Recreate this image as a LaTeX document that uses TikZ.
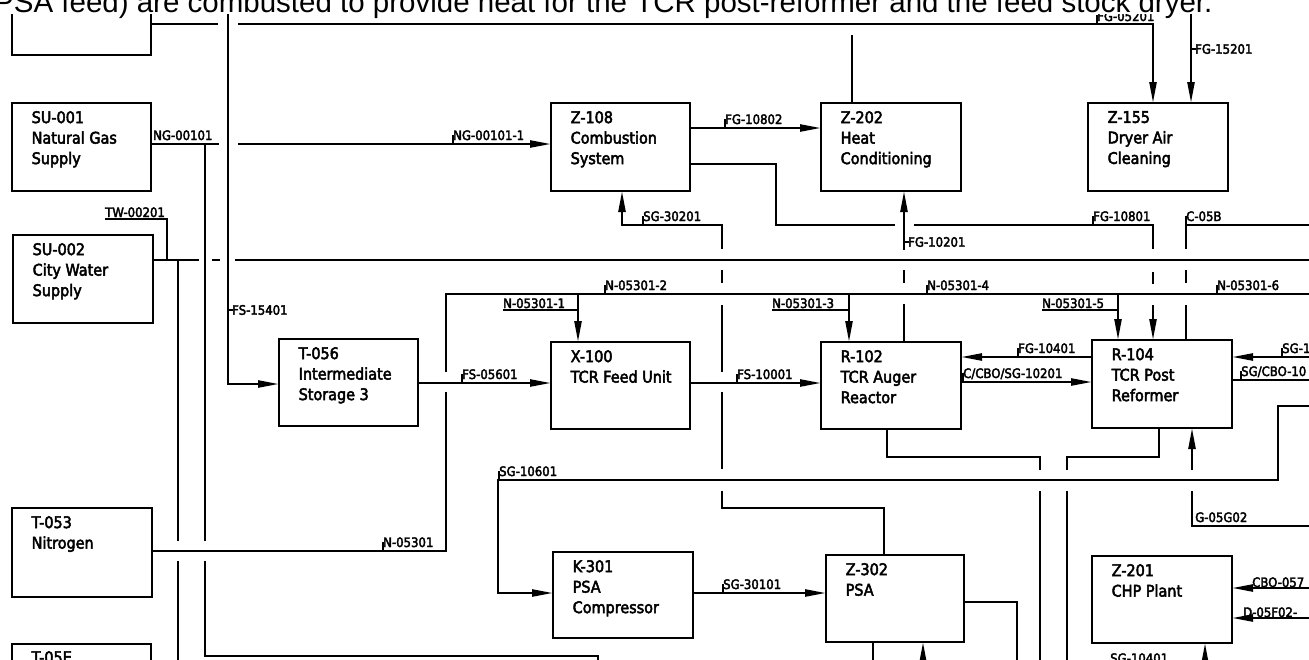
\documentclass[tikz,border=0pt]{standalone}
\usepackage{fontspec}
\setmainfont{Liberation Sans}
\newfontfamily\isofont{DejaVu Sans}[FakeStretch=0.9,FakeBold=3]
\usetikzlibrary{arrows.meta,calc}
\tikzset{
 ln/.style={line width=2.4pt, line cap=butt, line join=miter},
 arr/.style={ln, -{Triangle[length=21pt,width=7pt]}},
 box/.style={draw, line width=2.5pt, rectangle, inner sep=0pt, outer sep=0pt, anchor=north west},
 btxt/.style={anchor=north west, inner sep=0pt, align=left, font=\isofont\fontsize{16}{20.5}\selectfont},
 lbl/.style={anchor=base west, inner sep=0pt, font=\isofont\fontsize{13}{15}\selectfont},
 tick/.style={line width=1.4pt},
}
\newcommand\hlab[4]{\draw[tick] (#2,#3) -- ({#2},{#3-9}); \node[lbl] (#1) at ({#2},{#3-4}) {#4};}
\newcommand\ulab[4]{\node[lbl] (#1) at ({#2},{#3-2}) {#4};}
\newcommand\vlab[4]{\draw[tick] (#2,#3) -- ({#2+5},{#3}); \node[lbl, anchor=west] (#1) at ({#2+4},{#3}) {#4};}
\newcommand\gv[4]{\fill[white] ({#1-4},{#2}) rectangle ({#1+4},{#3}); \draw[ln] ({#1-5},{#4}) -- ({#1+5},{#4});}
\newcommand\gh[4]{\fill[white] ({#2},{#1-4}) rectangle ({#3},{#1+4}); \draw[ln] ({#4},{#1-5}) -- ({#4},{#1+5});}
\begin{document}
\begin{tikzpicture}[x=1pt,y=-1pt]
\useasboundingbox (0,0) rectangle (1309,659);
\begin{scope}
\clip (0,14) rectangle (1309,659);
% boxes
\node[box, minimum width=139pt, minimum height=95pt] (tb) at (12,-40) {};
\node[box, minimum width=139pt, minimum height=88pt] (su1) at (12,103) {};
\node[box, minimum width=140pt, minimum height=88pt] (su2) at (13,235) {};
\node[box, minimum width=140pt, minimum height=89pt] (t53) at (12,508) {};
\node[box, minimum width=139pt, minimum height=88pt] (t5e) at (12,644) {};
\node[box, minimum width=139pt, minimum height=87pt] (t56) at (279,339) {};
\node[box, minimum width=139pt, minimum height=88pt] (z108) at (551,103) {};
\node[box, minimum width=140pt, minimum height=88pt] (z202) at (821,103) {};
\node[box, minimum width=140pt, minimum height=88pt] (z155) at (1088,103) {};
\node[box, minimum width=139pt, minimum height=87pt] (x100) at (551,342) {};
\node[box, minimum width=140pt, minimum height=87pt] (r102) at (821,342) {};
\node[box, minimum width=140pt, minimum height=88pt] (r104) at (1092,340) {};
\node[box, minimum width=140pt, minimum height=86pt] (k301) at (553,552) {};
\node[box, minimum width=138pt, minimum height=87pt] (z302) at (826,555) {};
\node[box, minimum width=140pt, minimum height=87pt] (z201) at (1092,556) {};
% box texts
\node[btxt, xshift=19.5pt, yshift=-8pt] (tsu1) at (su1.north west) {SU-001\\Natural Gas\\Supply};
\node[btxt, xshift=19.5pt, yshift=-8pt] (tsu2) at (su2.north west) {SU-002\\City Water\\Supply};
\node[btxt, xshift=19.5pt, yshift=-8pt] (tt53) at (t53.north west) {T-053\\Nitrogen};
\node[btxt, xshift=19.5pt, yshift=-7pt] (tt5e) at (t5e.north west) {T-05E};
\node[btxt, xshift=19.5pt, yshift=-8pt] (tt56) at (t56.north west) {T-056\\Intermediate\\Storage 3};
\node[btxt, xshift=19.5pt, yshift=-8pt] (tz108) at (z108.north west) {Z-108\\Combustion\\System};
\node[btxt, xshift=19.5pt, yshift=-8pt] (tz202) at (z202.north west) {Z-202\\Heat\\Conditioning};
\node[btxt, xshift=19.5pt, yshift=-8pt] (tz155) at (z155.north west) {Z-155\\Dryer Air\\Cleaning};
\node[btxt, xshift=19.5pt, yshift=-8pt] (tx100) at (x100.north west) {X-100\\TCR Feed Unit};
\node[btxt, xshift=19.5pt, yshift=-8pt] (tr102) at (r102.north west) {R-102\\TCR Auger\\Reactor};
\node[btxt, xshift=19.5pt, yshift=-8pt] (tr104) at (r104.north west) {R-104\\TCR Post\\Reformer};
\node[btxt, xshift=19.5pt, yshift=-8pt] (tk301) at (k301.north west) {K-301\\PSA\\Compressor};
\node[btxt, xshift=19.5pt, yshift=-8pt] (tz302) at (z302.north west) {Z-302\\PSA};
\node[btxt, xshift=19.5pt, yshift=-8pt] (tz201) at (z201.north west) {Z-201\\CHP Plant};
% free ends
\coordinate (f152) at (1191,0);
\coordinate (z2t) at (852,35);
\coordinate (c05) at (1320,225);
\coordinate (fs154) at (228,0);
\coordinate (tw) at (105,219);
\coordinate (twj) at (167,260);
\coordinate (wend) at (1320,260);
\coordinate (wj) at (178,260);
\coordinate (wend2) at (178,670);
\coordinate (ngj) at (205,144);
\coordinate (ngc) at (598,656);
\coordinate (ngend) at (598,670);
\coordinate (nc) at (446,294);
\coordinate (nend) at (1320,294);
\coordinate (sg1) at (1320,357);
\coordinate (sgc) at (1320,380);
\coordinate (sa) at (722,508);
\coordinate (sb) at (622,225);
\coordinate (s6e) at (1320,406);
\coordinate (s6a) at (1278,480);
\coordinate (s6b) at (498,480);
\coordinate (r2c) at (1040,457);
\coordinate (r2b) at (1040,670);
\coordinate (r4c) at (1067,457);
\coordinate (r4b) at (1067,670);
\coordinate (g05) at (1320,526);
\coordinate (z3r) at (1017,670);
\coordinate (z3b1) at (873,670);
\coordinate (z3b2) at (923,670);
\coordinate (cbo) at (1320,588);
\coordinate (d05) at (1320,618);
\coordinate (z1b) at (1205,670);
\coordinate (fgc) at (776,225);
% connectors
\draw[arr] (tb.east |- 0,24) -| ([xshift=-5pt]z155.north);
\draw[arr] (f152) -- (f152 |- z155.north);
\draw[arr] ([yshift=3pt]su1.east) -- ([yshift=3pt]su1.east -| z108.west);
\draw[ln] (ngj) |- (ngc) -- (ngend);
\draw[arr] ([yshift=19pt]z108.east) -- ([yshift=19pt]z108.east -| z202.west);
\draw[arr] ([yshift=-17pt]z108.east) -| (fgc) -| ([xshift=-9pt]r104.north);
\draw[arr] ([xshift=13pt]r102.north) -- ([xshift=13pt]r102.north |- z202.south);
\draw[ln] (z2t) -- (z2t |- z202.north);
\draw[ln] ([xshift=24pt]r104.north) |- (c05);
\draw[arr] (fs154) |- ([yshift=-1.5pt]t56.west);
\draw[ln] (tw) -| (twj);
\draw[ln] ([yshift=19pt]su2.east) -- (wend);
\draw[ln] (wj) -- (wend2);
\draw[ln] ([yshift=1.5pt]t53.east) -| (nc) -- (nend);
\draw[arr] ([xshift=-42.5pt]x100.north |- nend) -- ([xshift=-42.5pt]x100.north);
\draw[arr] ([xshift=-42pt]r102.north |- nend) -- ([xshift=-42pt]r102.north);
\draw[arr] ([xshift=-44pt]r104.north |- nend) -- ([xshift=-44pt]r104.north);
\draw[ln] (503,310) -- (578,310);
\draw[ln] (772,310) -- (849,310);
\draw[ln] (1042,310) -- (1118,310);
\draw[arr] ([yshift=-0.5pt]t56.east) -- ([yshift=-0.5pt]t56.east -| x100.west);
\draw[arr] ([yshift=2.5pt]x100.east) -- ([yshift=2.5pt]x100.east -| r102.west);
\draw[arr] ([yshift=27pt]r104.west) -- ([yshift=27pt]r104.west -| r102.east);
\draw[arr] ([yshift=2pt]r104.west -| r102.east) -- ([yshift=2pt]r104.west);
\draw[arr] (sg1) -- (sg1 -| r104.east);
\draw[ln] ([yshift=4pt]r104.east) -- (sgc);
\draw[arr] ([xshift=-11pt]z302.north) |- (sa) -- (sa |- sb) -- (sb) -- (sb |- z108.south);
\draw[arr] (s6e) -| (s6a) -- (s6b) |- ([yshift=2pt]k301.west);
\draw[ln] ([xshift=-4pt]r102.south) |- (r2c) -- (r2b);
\draw[ln] ([xshift=-3pt]r104.south) |- (r4c) -- (r4b);
\draw[arr] (g05) -| ([xshift=30pt]r104.south);
\draw[arr] ([yshift=2pt]k301.east) -- ([yshift=2pt]k301.east -| z302.west);
\draw[ln] ([yshift=-3.5pt]z302.east) -| (z3r);
\draw[ln] (z3b1 |- z302.south) -- (z3b1);
\draw[arr] (z3b2) -- (z3b2 |- z302.south);
\draw[arr] (cbo) -- (cbo -| z201.east);
\draw[arr] (d05) -- (d05 -| z201.east);
\draw[arr] (z1b) -- (z1b |- z201.south);
% crossing gaps
\gh{24}{218}{238}{228}
\gh{144}{219}{238}{228}
\gh{260}{199}{212}{205}
\gh{260}{220}{235}{228}
\gh{225}{895}{914}{904}
\gv{722}{249}{270}{260}
\gv{722}{283}{305}{294}
\gv{722}{372}{392}{383}
\gv{722}{469}{491}{480}
\gv{904}{250}{270}{260}
\gv{904}{283}{304}{294}
\gv{1153}{249}{272}{260}
\gv{1153}{284}{305}{294}
\gv{1186}{249}{270}{260}
\gv{1186}{283}{305}{294}
\gv{446}{372}{392}{383}
\gv{1040}{470}{491}{480}
\gv{1067}{470}{491}{480}
\gv{1192}{470}{491}{480}
\gv{178}{541}{561}{551}
\gv{205}{541}{561}{551}
% labels
\node[lbl] (l0) at (153,140) {NG-00101};
\hlab{l1}{453}{144}{NG-00101-1}
\hlab{l2}{725}{128}{FG-10802}
\draw[tick] (1097,24) -- (1097,15); \node[lbl] (l3) at (1097,21) {FG-05201};
\hlab{l4}{1093}{225}{FG-10801}
\hlab{l5}{1186}{225}{C-05B}
\hlab{l6}{643}{225}{SG-30201}
\hlab{l7}{605}{294}{N-05301-2}
\hlab{l8}{927}{294}{N-05301-4}
\hlab{l9}{1217}{294}{N-05301-6}
\hlab{l10}{462}{383}{FS-05601}
\hlab{l11}{737}{383}{FS-10001}
\hlab{l12}{1018}{357}{FG-10401}
\hlab{l13}{963}{382}{C/CBO/SG-10201}
\hlab{l14}{1282}{357}{SG-1}
\hlab{l15}{1241}{380}{SG/CBO-10}
\hlab{l16}{499}{480}{SG-10601}
\hlab{l17}{383}{551}{N-05301}
\hlab{l18}{723}{593}{SG-30101}
\node[lbl] (l19) at (1195,522) {G-05G02};
\node[lbl] (l20) at (1252,587) {CBO-057};
\node[lbl] (l21) at (1243,617) {D-05F02-};
\node[lbl] (l22) at (1110,663) {SG-10401};
\ulab{l23}{105}{219}{TW-00201}
\ulab{l24}{503}{310}{N-05301-1}
\ulab{l25}{772}{310}{N-05301-3}
\ulab{l26}{1042}{310}{N-05301-5}
\vlab{l27}{228}{310}{FS-15401}
\vlab{l28}{904}{242}{FG-10201}
\vlab{l29}{1191}{49}{FG-15201}
\end{scope}
\node[anchor=base west, inner sep=0pt, font=\fontsize{29.5}{32}\selectfont] (cap) at (-6,12.5) {PSA feed) are combusted to provide heat for the TCR post-reformer and the feed stock dryer.};
\end{tikzpicture}
\end{document}
